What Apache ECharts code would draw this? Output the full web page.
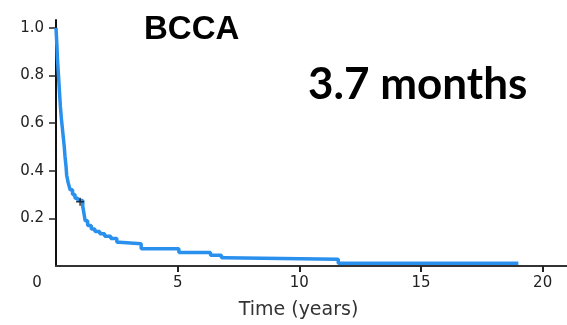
<!DOCTYPE html>
<html>
<head>
<meta charset="utf-8">
<script src="https://cdn.jsdelivr.net/npm/echarts@6/dist/echarts.min.js"></script>
<style>
  html, body { margin: 0; padding: 0; background: #fff; }
  #chart { width: 567px; height: 325px; }
</style>
</head>
<body>
<div id="chart"></div>
<script>
// Kaplan-Meier survival estimate: event times (years) and survival after each event
const timeYears = [0, 0.02, 0.04, 0.06, 0.09, 0.12, 0.15, 0.18, 0.22, 0.26, 0.30, 0.34, 0.37, 0.41, 0.44,
  0.50, 0.58, 0.68, 0.78, 0.90, 1.10, 1.15, 1.20, 1.30, 1.45, 1.60, 1.80, 2.00, 2.25, 2.50, 2.60,
  3.50, 5.05, 6.35, 6.80, 6.95, 11.6, 19.0];
const survival = [1.0, 0.96, 0.92, 0.87, 0.82, 0.77, 0.72, 0.67, 0.62, 0.58, 0.54, 0.50, 0.46, 0.42, 0.38,
  0.35, 0.32, 0.30, 0.285, 0.275, 0.25, 0.22, 0.19, 0.17, 0.155, 0.145, 0.135, 0.125, 0.115, 0.10, 0.093,
  0.072, 0.057, 0.045, 0.035, 0.028, 0.012, 0.012];

// Censored observation marks
const censorTimes = [0.99];
const censorSurvival = [0.27];

// Axis ticks and labels
const xLabelValues = [0, 5, 10, 15, 20];
const xTickValues = [5, 10, 15, 20];
const yTickValues = [0.2, 0.4, 0.6, 0.8, 1.0];

const cohortName = 'BCCA';
const medianText = '3.7 months';
const xAxisName = 'Time (years)';

const curve = timeYears.map((t, i) => [t, survival[i]]);
const censored = censorTimes.map((t, i) => [t, censorSurvival[i]]);

const chart = echarts.init(document.getElementById('chart'), null, { renderer: 'canvas' });

chart.setOption({
  animation: false,
  backgroundColor: '#ffffff',
  title: [
    {
      text: cohortName,
      left: 139, top: 8,
      textStyle: { fontFamily: 'Liberation Sans', fontWeight: 'bold', fontSize: 33, color: '#000' }
    },
    {
      text: medianText,
      left: 303, top: 58,
      textStyle: { fontFamily: 'Lato', fontWeight: 'bold', fontSize: 44, color: '#000' }
    }
  ],
  grid: { left: 56, right: 0, top: 20, bottom: 54, containLabel: false },
  xAxis: {
    type: 'value',
    min: 0, max: 21,
    name: xAxisName,
    nameLocation: 'middle',
    nameGap: 35,
    nameTextStyle: { fontFamily: 'DejaVu Sans', fontSize: 19, color: '#333', padding: [0, 26, 0, 0] },
    axisLine: { show: true, onZero: false, lineStyle: { color: '#333', width: 2 } },
    axisTick: { show: true, length: 6, customValues: xTickValues, lineStyle: { color: '#222', width: 2 } },
    axisLabel: {
      customValues: xLabelValues,
      margin: 10,
      fontFamily: 'DejaVu Sans', fontSize: 15, color: '#222',
      formatter: v => (v === 0 ? '{o|0}' : String(v)),
      rich: { o: { fontFamily: 'DejaVu Sans', fontSize: 15, color: '#222', padding: [0, 38, 0, 0] } }
    },
    splitLine: { show: false }
  },
  yAxis: {
    type: 'value',
    min: 0, max: 1.033,
    axisLine: { show: true, onZero: false, lineStyle: { color: '#111', width: 2 } },
    axisTick: { show: true, length: 7, customValues: yTickValues, lineStyle: { color: '#222', width: 1.5 } },
    axisLabel: {
      customValues: yTickValues,
      margin: 12,
      fontFamily: 'DejaVu Sans', fontSize: 15, color: '#222',
      formatter: v => v.toFixed(1)
    },
    splitLine: { show: false }
  },
  series: [
    {
      type: 'line',
      step: 'end',
      data: curve,
      showSymbol: false,
      lineStyle: { color: '#2a90ee', width: 3.5 },
      z: 2
    },
    {
      type: 'scatter',
      data: censored,
      symbol: 'path://M4,0 H6 V4 H10 V6 H6 V10 H4 V6 H0 V4 H4 Z',
      symbolSize: 8,
      itemStyle: { color: '#111' },
      z: 3
    }
  ]
});
</script>
</body>
</html>
